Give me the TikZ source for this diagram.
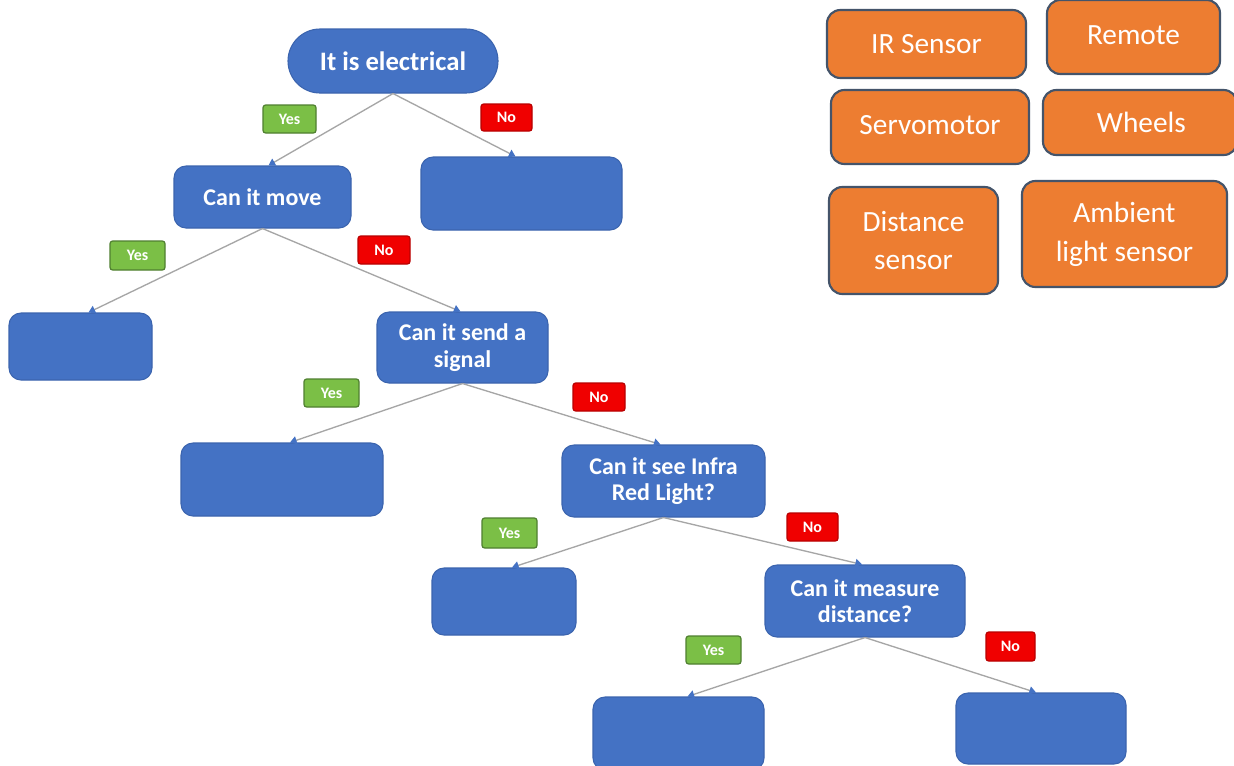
\documentclass[tikz,border=0pt]{standalone}
\usepackage{fontspec}
\setmainfont{Carlito}
\usetikzlibrary{arrows.meta,calc}
\definecolor{bfill}{HTML}{4472C4}
\definecolor{bline}{HTML}{3B64AE}
\definecolor{ofill}{HTML}{ED7D31}
\definecolor{oline}{HTML}{44546A}
\definecolor{gfill}{HTML}{7BBF46}
\definecolor{gline}{HTML}{4F7F30}
\definecolor{rfill}{HTML}{F00000}
\definecolor{rline}{HTML}{B80000}
\definecolor{conn}{HTML}{A6A6A6}
\tikzset{
  qbox/.style={draw=bline, fill=bfill, line width=0.8pt, rounded corners=9pt,
    text=white, font=\fontsize{18}{20}\selectfont\bfseries, align=center, inner sep=0pt},
  ebox/.style={qbox},
  obox/.style={draw=oline, fill=ofill, line width=1.6pt, rounded corners=10pt,
    text=white, font=\fontsize{22}{29}\selectfont, align=center, inner sep=0pt},
  yestag/.style={draw=gline, fill=gfill, line width=0.9pt, rounded corners=2pt,
    text=white, font=\fontsize{12}{13}\selectfont\bfseries, inner sep=0pt},
  notag/.style={draw=rline, fill=rfill, line width=0.9pt, rounded corners=2pt,
    text=white, font=\fontsize{12}{13}\selectfont\bfseries, inner sep=0pt},
  conn/.style={draw=conn, line width=1pt, -{Triangle[width=6pt,length=5pt,fill=bfill,color=bfill]}},
}
\begin{document}
\begin{tikzpicture}[x=0.75pt,y=-0.75pt]
\useasboundingbox[fill=white] (0,0) rectangle (1234,765);

% decision nodes
\node[qbox, rounded corners=24pt, minimum width=157.5pt, minimum height=48pt,
  font=\fontsize{20}{22}\selectfont\bfseries] (root) at (393,61) {It is electrical};
\node[qbox, minimum width=132.75pt, minimum height=46.5pt] (move) at (262.5,197) {Can it move};
\node[ebox, minimum width=150.75pt, minimum height=54.75pt] (e1) at (521.5,193.5) {};
\node[ebox, minimum width=107.25pt, minimum height=50.25pt] (e2) at (80.5,346.5) {};
\node[qbox, minimum width=128.25pt, minimum height=53.25pt] (signal) at (462.5,347.5) {Can it send a\\signal};
\node[ebox, minimum width=151.5pt, minimum height=54.75pt] (e3) at (282,479.5) {};
\node[qbox, minimum width=152.25pt, minimum height=54pt] (infra) at (663.5,481) {Can it see Infra\\Red Light?};
\node[ebox, minimum width=108pt, minimum height=50.25pt] (e4) at (504,601.5) {};
\node[qbox, minimum width=150pt, minimum height=54pt] (measure) at (865,601) {Can it measure\\distance?};
\node[ebox, minimum width=128.25pt, minimum height=54.75pt] (e5) at (678.5,733.5) {};
\node[ebox, minimum width=127.5pt, minimum height=53.25pt] (e6) at (1041,728.5) {};

% connectors
\draw[conn] (root.south) -- ($(move.north)+(6,0)$);
\draw[conn] (root.south) -- ($(e1.north)+(-6,0)$);
\draw[conn] (move.south) -- ($(e2.north)+(8,0)$);
\draw[conn] (move.south) -- ($(signal.north)+(-2,0)$);
\draw[conn] (signal.south) -- ($(e3.north)+(8,0)$);
\draw[conn] (signal.south) -- ($(infra.north)+(-3,0)$);
\draw[conn] (infra.south) -- ($(e4.north)+(8,0)$);
\draw[conn] (infra.south) -- ($(measure.north)+(-3,0)$);
\draw[conn] (measure.south) -- ($(e5.north)+(9,0)$);
\draw[conn] (measure.south) -- ($(e6.north)+(-5,0)$);

% yes / no tags
\node[yestag, minimum width=39.75pt, minimum height=21pt] (y1) at (289.5,119) {Yes};
\node[notag, minimum width=38.25pt, minimum height=20.25pt] (n1) at (506.5,117.5) {No};
\node[yestag, minimum width=41.25pt, minimum height=21.75pt] (y2) at (137.5,255.5) {Yes};
\node[notag, minimum width=39pt, minimum height=21pt] (n2) at (384,250) {No};
\node[yestag, minimum width=41.25pt, minimum height=21pt] (y3) at (331.5,393) {Yes};
\node[notag, minimum width=39pt, minimum height=21pt] (n3) at (599,397) {No};
\node[yestag, minimum width=41.25pt, minimum height=22.5pt] (y4) at (509.5,533) {Yes};
\node[notag, minimum width=38.25pt, minimum height=21pt] (n4) at (812.5,527) {No};
\node[yestag, minimum width=41.25pt, minimum height=21pt] (y5) at (713.5,650) {Yes};
\node[notag, minimum width=36.75pt, minimum height=21.75pt] (n5) at (1010.5,646.5) {No};

% orange component boxes
\node[obox, minimum width=149.25pt, minimum height=51pt] (ir) at (926.5,44) {IR Sensor};
\node[obox, minimum width=129.75pt, minimum height=55.5pt] (remote) at (1133.5,37) {\raisebox{3.5pt}{Remote}};
\node[obox, minimum width=148.5pt, minimum height=55.5pt] (servo) at (930,127) {\raisebox{2.5pt}{Servomotor}};
\node[obox, minimum width=145.5pt, minimum height=48.75pt] (wheels) at (1140,122.5) {\hspace*{2pt}Wheels};
\node[obox, minimum width=126.75pt, minimum height=80.25pt] (dist) at (913.5,240.5) {Distance\\sensor};
\node[obox, minimum width=153.75pt, minimum height=79.5pt] (amb) at (1124.5,234) {Ambient\\light sensor};
\end{tikzpicture}
\end{document}
